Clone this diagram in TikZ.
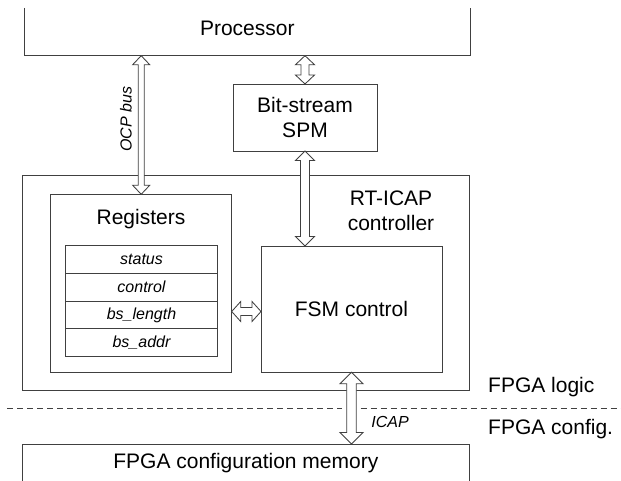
\documentclass[tikz,border=0pt]{standalone}
\usepackage{fontspec}
\setmainfont{Liberation Sans}
\usetikzlibrary{calc}
\definecolor{lc}{HTML}{404040}
\newcommand\fbig{\fontsize{21}{25.5}\selectfont}
\newcommand\fsmall{\fontsize{16}{19}\selectfont\itshape}
% vertical double arrow: #1 top point, #2 bottom point, #3 half shaft, #4 half head, #5 head length
\newcommand\dArrV[5]{%
  \draw[arr] let \p1=(#1), \p2=(#2) in
    (\x1,\y1) -- (\x1+#4pt,\y1-#5pt) -- (\x1+#3pt,\y1-#5pt) -- (\x1+#3pt,\y2+#5pt)
    -- (\x1+#4pt,\y2+#5pt) -- (\x1,\y2) -- (\x1-#4pt,\y2+#5pt) -- (\x1-#3pt,\y2+#5pt)
    -- (\x1-#3pt,\y1-#5pt) -- (\x1-#4pt,\y1-#5pt) -- cycle;}
% horizontal double arrow: #1 left point, #2 right point
\newcommand\dArrH[5]{%
  \draw[arr] let \p1=(#1), \p2=(#2) in
    (\x1,\y1) -- (\x1+#5pt,\y1+#4pt) -- (\x1+#5pt,\y1+#3pt) -- (\x2-#5pt,\y1+#3pt)
    -- (\x2-#5pt,\y1+#4pt) -- (\x2,\y1) -- (\x2-#5pt,\y1-#4pt) -- (\x2-#5pt,\y1-#3pt)
    -- (\x1+#5pt,\y1-#3pt) -- (\x1+#5pt,\y1-#4pt) -- cycle;}
\tikzset{
  ln/.style={draw=lc, line width=0.85pt},
  box/.style={ln, rectangle, inner sep=0pt, outer sep=0pt},
  ghost/.style={rectangle, inner sep=0pt, outer sep=0pt},
  arr/.style={ln, fill=white, line join=miter},
  big/.style={font=\fbig, inner sep=0pt, align=center},
  small/.style={font=\fsmall, inner sep=0pt},
  row/.style={box, minimum width=151.6pt, minimum height=27.7pt, font=\fsmall},
}
\begin{document}
\begin{tikzpicture}[x=1pt,y=-1pt]
\useasboundingbox (0,0) rectangle (621,481);

% Processor (open top)
\node[ghost, minimum width=445.3pt, minimum height=47.7pt] (proc) at (247.35,31.85) {};
\draw[ln] (proc.north west) -- (proc.south west) -- (proc.south east) -- (proc.north east);
\node[big] (proctext) at (247.3,28) {Processor};

% Bit-stream SPM
\node[box, big, minimum width=144pt, minimum height=67pt] (spm) at (305,117.5) {Bit-stream\\SPM};

% RT-ICAP controller outer box
\node[box, minimum width=446.6pt, minimum height=215.7pt] (ctrl) at (246,282.85) {};
\node[big] (ctrltext) at (391,211) {RT-ICAP\\controller};

% Registers
\node[box, minimum width=181pt, minimum height=178pt] (regs) at (141.2,283.3) {};
\node[big] (regtitle) at (141,219) {Registers};
\node[row] (r1) at (141.5,259.55) {status};
\node[row] (r2) at (141.5,287.25) {control};
\node[row] (r3) at (141.5,314.95) {bs\_length};
\node[row] (r4) at (141.5,342.65) {bs\_addr};

% FSM control
\node[box, big, minimum width=181pt, minimum height=126.3pt] (fsm) at (351.5,309.15) {FSM control};

% FPGA configuration memory (open bottom)
\node[ghost, minimum width=446.3pt, minimum height=37pt] (mem) at (245.85,462.5) {};
\draw[ln] (mem.south west) -- (mem.north west) -- (mem.north east) -- (mem.south east);
\node[big] (memtext) at (245.85,463) {FPGA configuration memory};

% dashed separator
\coordinate (dl) at (7,408);
\coordinate (dr) at (621,408);
\draw[ln, line width=0.75pt, dash pattern=on 6pt off 4pt] (dl) -- ([xshift=-10pt]fsm.south |- dl);
\draw[ln, line width=0.75pt, dash pattern=on 6pt off 4pt] ([xshift=9pt]fsm.south |- dl) -- (dr);

% side labels
\node[big, anchor=base west] (lg) at (488,392.5) {FPGA logic};
\node[big, anchor=base west] (cf) at (488,434) {FPGA config.};

% arrows
\dArrV{regs.north |- proc.south}{regs.north}{3}{8.5}{9}
\dArrV{spm.north |- proc.south}{spm.north}{4}{9.5}{9}
\dArrV{spm.south}{spm.south |- fsm.north}{4.5}{9.5}{9.5}
\dArrV{fsm.south}{fsm.south |- mem.north}{4.8}{11.5}{11.5}
\coordinate (hmid) at (246,311.5);
\dArrH{regs.east |- hmid}{fsm.west |- hmid}{4}{10}{9}

% arrow labels
\node[small, rotate=90] (ocp) at (126,119) {OCP bus};
\node[small] (icap) at (390,421.7) {ICAP};
\end{tikzpicture}
\end{document}
